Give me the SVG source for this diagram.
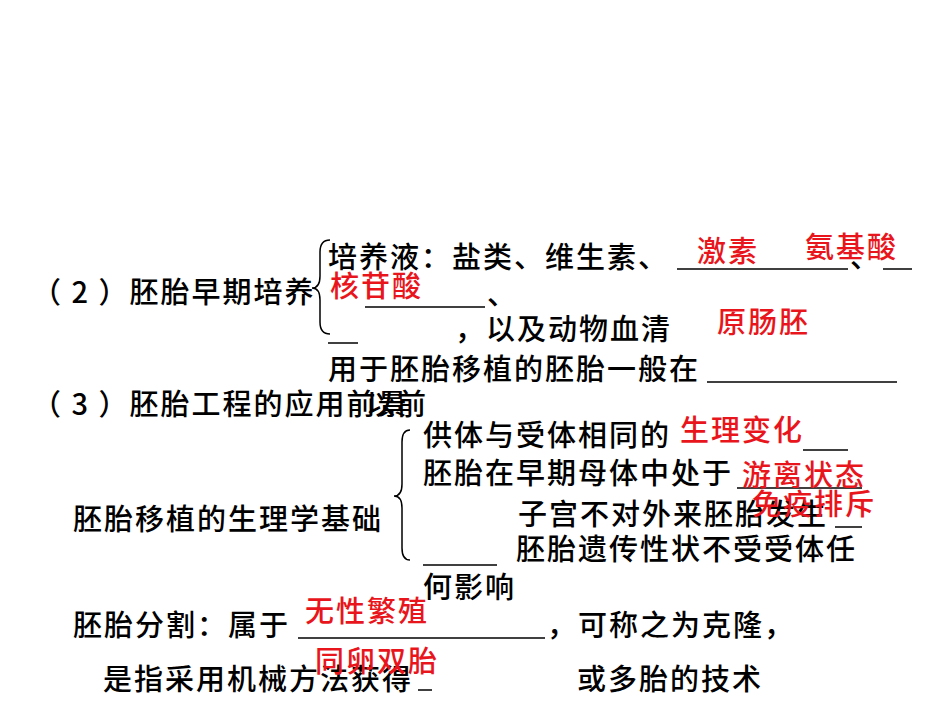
<svg xmlns="http://www.w3.org/2000/svg" width="950" height="713" viewBox="0 0 950 713">
<style>
text{font-family:"Noto Sans CJK SC","Liberation Sans",sans-serif;font-size:29px;letter-spacing:2px;font-weight:500}
.k{fill:#000}
.r{fill:#e8161c}
.u{stroke:#000;stroke-width:1.5}
.b{fill:none;stroke:#000;stroke-width:1.5}
</style>
<rect width="950" height="713" fill="#fff"/>
<g id="lines">
<line class="u" x1="677" y1="269" x2="848" y2="269"/>
<line class="u" x1="883" y1="269" x2="912" y2="269"/>
<line class="u" x1="365" y1="307" x2="485" y2="307"/>
<line class="u" x1="328" y1="343" x2="358" y2="343"/>
<line class="u" x1="707" y1="382" x2="897" y2="382"/>
<line class="u" x1="803" y1="450" x2="848" y2="450"/>
<line class="u" x1="737" y1="488" x2="862" y2="488"/>
<line class="u" x1="835" y1="527" x2="862" y2="527"/>
<line class="u" x1="423" y1="565" x2="497" y2="565"/>
<line class="u" x1="298" y1="638" x2="545" y2="638"/>
<line class="u" x1="418" y1="690" x2="432" y2="690"/>
<path class="b" d="M330,240 Q320,240 320,252 L320,276 Q320,288 312,288 Q320,288 320,300 L320,322 Q320,334 330,334"/>
<path class="b" d="M410,430 Q402,430 402,442 L402,484 Q402,496 394,496 Q402,496 402,508 L402,548 Q402,560 410,560"/>
</g>
<g id="text">
<text class="k" x="328" y="268">培养液：盐类、维生素、</text>
<text class="k" x="850" y="268">、</text>
<text class="k" x="32" y="303">（ 2 ）胚胎早期培养</text>
<text class="k" x="487" y="305">、</text>
<text class="k" x="455" y="340">，以及动物血清</text>
<text class="k" x="328" y="380">用于胚胎移植的胚胎一般在</text>
<text class="k" x="32" y="415">（ 3 ）胚胎工程的应用前景</text>
<text class="k" x="366" y="415">以前</text>
<text class="k" x="423" y="446">供体与受体相同的</text>
<text class="k" x="423" y="484">胚胎在早期母体中处于</text>
<text class="k" x="518" y="525">子宫不对外来胚胎发生</text>
<text class="k" x="73" y="530">胚胎移植的生理学基础</text>
<text class="k" x="516" y="560">胚胎遗传性状不受受体任</text>
<text class="k" x="423" y="598">何影响</text>
<text class="k" x="73" y="636">胚胎分割：属于</text>
<text class="k" x="547" y="636">，可称之为克隆，</text>
<text class="k" x="103" y="690">是指采用机械方法获得</text>
<text class="k" x="577" y="690">或多胎的技术</text>
</g>
<g id="answers">
<text class="r" x="697" y="262">激素</text>
<text class="r" x="805" y="258">氨基酸</text>
<text class="r" x="330" y="297">核苷酸</text>
<text class="r" x="717" y="333">原肠胚</text>
<text class="r" x="680" y="441">生理变化</text>
<text class="r" x="742" y="486">游离状态</text>
<text class="r" x="752" y="515">免疫排斥</text>
<text class="r" x="305" y="622">无性繁殖</text>
<text class="r" x="315" y="672">同卵双胎</text>
</g>
</svg>
